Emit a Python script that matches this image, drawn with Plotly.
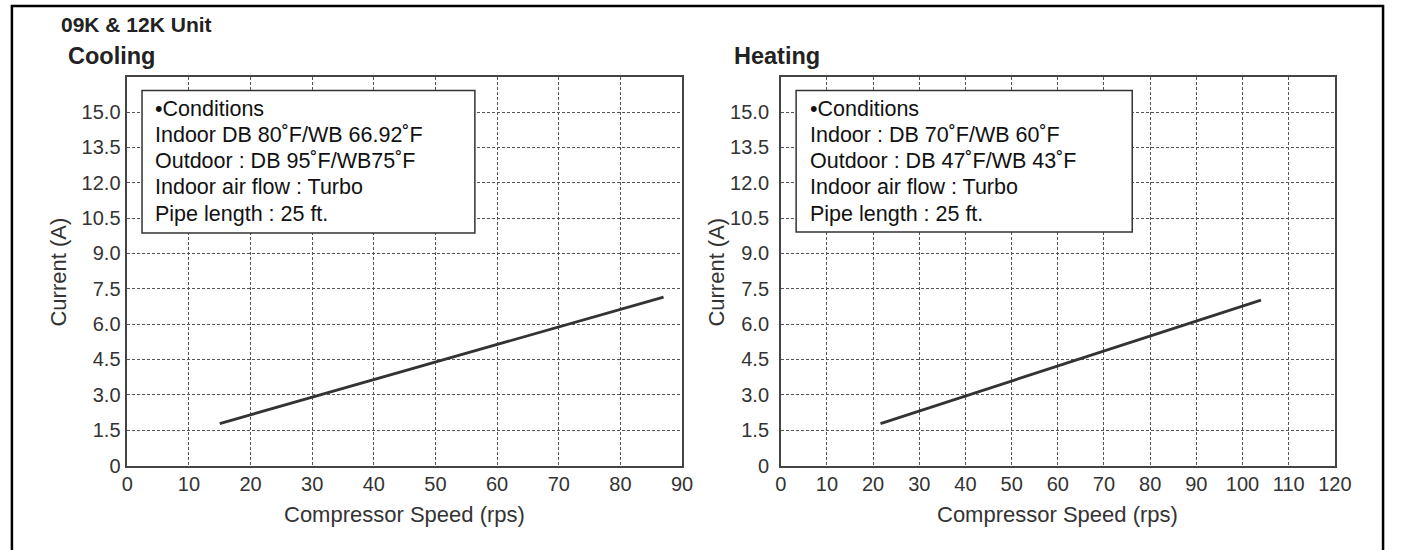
import plotly.graph_objects as go

# ---------------- data ----------------
cool_speed = [15.0, 87.0]
cool_current = [1.78, 7.15]
heat_speed = [21.6, 104.0]
heat_current = [1.78, 7.02]

y_tick_vals = [0, 1.5, 3.0, 4.5, 6.0, 7.5, 9.0, 10.5, 12.0, 13.5, 15.0]
y_tick_text = ["0", "1.5", "3.0", "4.5", "6.0", "7.5", "9.0", "10.5", "12.0", "13.5", "15.0"]
x_ticks_cool = [0, 10, 20, 30, 40, 50, 60, 70, 80, 90]
x_ticks_heat = [0, 10, 20, 30, 40, 50, 60, 70, 80, 90, 100, 110, 120]

cool_conditions = ["•Conditions", "Indoor DB 80˚F/WB 66.92˚F", "Outdoor : DB 95˚F/WB75˚F",
                   "Indoor air flow : Turbo", "Pipe length : 25 ft."]
heat_conditions = ["•Conditions", "Indoor : DB 70˚F/WB 60˚F", "Outdoor : DB 47˚F/WB 43˚F",
                   "Indoor air flow : Turbo", "Pipe length : 25 ft."]

main_title = "09K & 12K Unit"
panel_titles = ["Cooling", "Heating"]
x_title = "Compressor Speed (rps)"
y_title = "Current (A)"

# ---------------- layout helpers ----------------
W, H = 1403, 550
def px(x):
    return x / W
def py(y):
    return 1 - y / H

FONT = "Liberation Sans, Arial, sans-serif"
LINE_COLOR = "#333333"

fig = go.Figure()
fig.add_trace(go.Scatter(x=cool_speed, y=cool_current, mode="lines",
                         line=dict(color=LINE_COLOR, width=2.8), xaxis="x", yaxis="y",
                         showlegend=False))
fig.add_trace(go.Scatter(x=heat_speed, y=heat_current, mode="lines",
                         line=dict(color=LINE_COLOR, width=2.8), xaxis="x2", yaxis="y2",
                         showlegend=False))

plot_top, plot_bot = 78.3, 475.0
left_dom = [px(123.3), px(687.3)]
right_dom = [px(787.7), px(1351.0)]
y_dom = [py(plot_bot), py(plot_top)]

axis_common = dict(showline=True, mirror=True, linecolor="#444444", linewidth=1.5,
                   showgrid=True, gridcolor="#555555", gridwidth=1, griddash="3px,2px",
                   zeroline=False, ticks="",
                   tickfont=dict(family=FONT, size=20, color="#333333"))

fig.update_layout(
    width=W, height=H,
    margin=dict(l=0, r=0, t=0, b=0),
    paper_bgcolor="white", plot_bgcolor="white",
    showlegend=False,
    xaxis=dict(domain=left_dom, range=[0, 90], tickvals=x_ticks_cool, anchor="y", **axis_common),
    yaxis=dict(domain=y_dom, range=[0, 16.5], tickvals=y_tick_vals, ticktext=y_tick_text,
               anchor="x", ticklabelstandoff=1, **axis_common),
    xaxis2=dict(domain=right_dom, range=[0, 120], tickvals=x_ticks_heat, anchor="y2", **axis_common),
    yaxis2=dict(domain=y_dom, range=[0, 16.5], tickvals=y_tick_vals, ticktext=y_tick_text,
                anchor="x2", ticklabelstandoff=6, **axis_common),
)

shapes = []
annotations = []

# outer frame (bottom edge runs off the page, as in the reference)
shapes.append(dict(type="rect", xref="paper", yref="paper",
                   x0=px(6), x1=px(1400), y0=py(565), y1=py(6),
                   line=dict(color="black", width=2.5), fillcolor="rgba(0,0,0,0)"))

# condition boxes
baselines = [118.3, 145.0, 171.7, 198.3, 225.7]
boxes = [((138.3, 476.7, 92.3, 237.7), 149.3, cool_conditions),
         ((803.3, 1145.0, 92.3, 236.7), 815.0, heat_conditions)]
for (x0, x1, y0, y1), tx, lines in boxes:
    shapes.append(dict(type="rect", xref="paper", yref="paper",
                       x0=px(x0), x1=px(x1), y0=py(y1), y1=py(y0),
                       line=dict(color="#333333", width=1.5), fillcolor="white", layer="above"))
    for bl, line in zip(baselines, lines):
        annotations.append(dict(xref="paper", yref="paper", x=px(tx), y=py(bl - 7.3),
                                xanchor="left", yanchor="middle", align="left", showarrow=False,
                                text=line,
                                font=dict(family=FONT, size=21.5, color="#111111")))

# titles
annotations.append(dict(xref="paper", yref="paper", x=px(54), y=py(24.5), xanchor="left",
                        yanchor="middle", showarrow=False, text="<b>" + main_title + "</b>",
                        font=dict(family=FONT, size=21, color="#222222")))
for tx, t in zip([61, 738], panel_titles):
    annotations.append(dict(xref="paper", yref="paper", x=px(tx), y=py(57), xanchor="left",
                            yanchor="middle", showarrow=False, text="<b>" + t + "</b>",
                            font=dict(family=FONT, size=23.5, color="#222222")))

# axis titles
for cx in [405.3, 1069.3]:
    annotations.append(dict(xref="paper", yref="paper", x=px(cx), y=py(525), xanchor="center",
                            yanchor="middle", showarrow=False, text=x_title,
                            font=dict(family=FONT, size=22, color="#333333")))
for cx in [53, 722]:
    annotations.append(dict(xref="paper", yref="paper", x=px(cx), y=py(278), xanchor="center",
                            yanchor="middle", showarrow=False, text=y_title, textangle=-90,
                            font=dict(family=FONT, size=22, color="#333333")))

fig.update_layout(shapes=shapes, annotations=annotations)

fig.write_html("out.html", config={"displayModeBar": False},
               post_script="document.documentElement.style.margin='0';"
                           "document.body.style.margin='0';"
                           "document.documentElement.style.overflow='hidden';"
                           "document.body.style.overflow='hidden';")
